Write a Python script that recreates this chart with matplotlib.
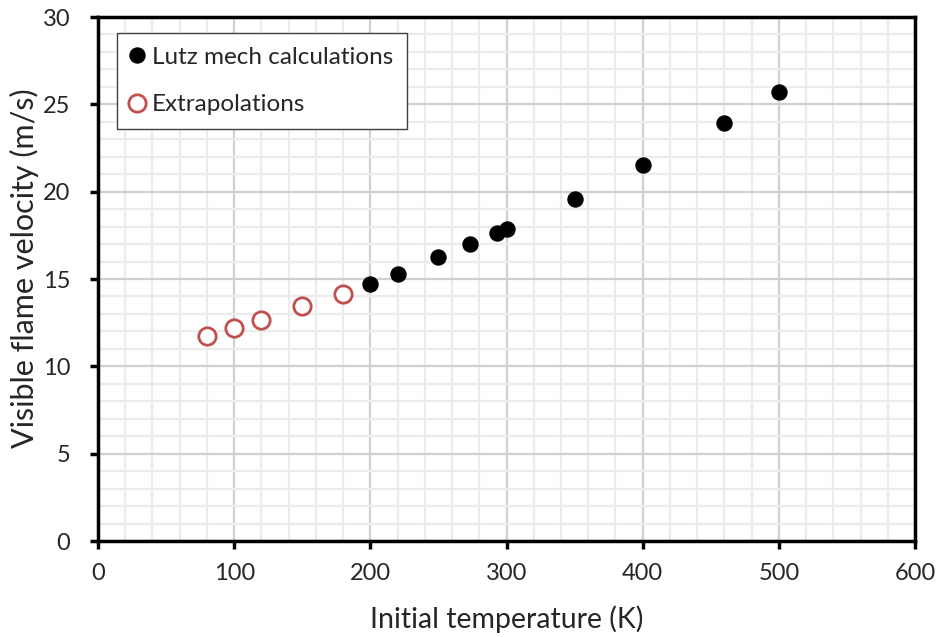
import numpy as np
import matplotlib.pyplot as plt

# Lutz mechanism calculations
temp_calc = [200, 220, 250, 273, 293, 300, 350, 400, 460, 500]
vel_calc = [14.7, 15.3, 16.25, 17.0, 17.65, 17.85, 19.6, 21.5, 23.95, 25.7]

# extrapolated points
temp_ext = [80, 100, 120, 150, 180]
vel_ext = [11.75, 12.2, 12.65, 13.45, 14.15]

plt.rcParams['font.family'] = ['Lato', 'DejaVu Sans']
txt = '#262626'

fig = plt.figure(figsize=(9.37, 6.37), dpi=100)
ax = fig.add_axes([98/937, 96/637, 817/937, 524/637])

ax.plot(temp_calc, vel_calc, 'o', color='black', markersize=10.8,
        label='Lutz mech calculations', zorder=3)
ax.plot(temp_ext, vel_ext, 'o', markerfacecolor='white', markeredgecolor='#c0504d',
        markeredgewidth=2, markersize=12.5, label='Extrapolations', zorder=3)

ax.set_xlim(0, 600)
ax.set_ylim(0, 30)
ax.set_xticks(np.arange(0, 601, 100))
ax.set_yticks(np.arange(0, 31, 5))
ax.set_xticks(np.arange(0, 601, 20), minor=True)
ax.set_yticks(np.arange(0, 31, 1), minor=True)
ax.grid(which='major', color='#d0d0d0', linewidth=1.6)
ax.grid(which='minor', color='#ececec', linewidth=1.6)
ax.set_axisbelow(True)
ax.tick_params(which='minor', length=0)
ax.tick_params(which='major', direction='out', length=6, width=2.5, labelsize=17,
               color='black', labelcolor=txt)
ax.tick_params(axis='x', pad=10)
ax.tick_params(axis='y', pad=14)
for sp in ax.spines.values():
    sp.set_linewidth(2.5)

ax.set_xlabel('Initial temperature (K)', fontsize=20.5, labelpad=15, color=txt)
ax.set_ylabel('Visible flame velocity (m/s)', fontsize=22, color=txt)
ax.yaxis.set_label_coords(-0.072, 0.52)

leg = ax.legend(loc='upper left', bbox_to_anchor=(0.023, 0.969), borderaxespad=0,
                fontsize=17.5, frameon=True, fancybox=False, edgecolor='#404040',
                framealpha=1, handlelength=0.6, handletextpad=0.3, labelspacing=1.1,
                borderpad=0.55)
leg.get_frame().set_linewidth(1)
for t in leg.get_texts():
    t.set_color(txt)

fig.savefig('out.png', dpi=100)
